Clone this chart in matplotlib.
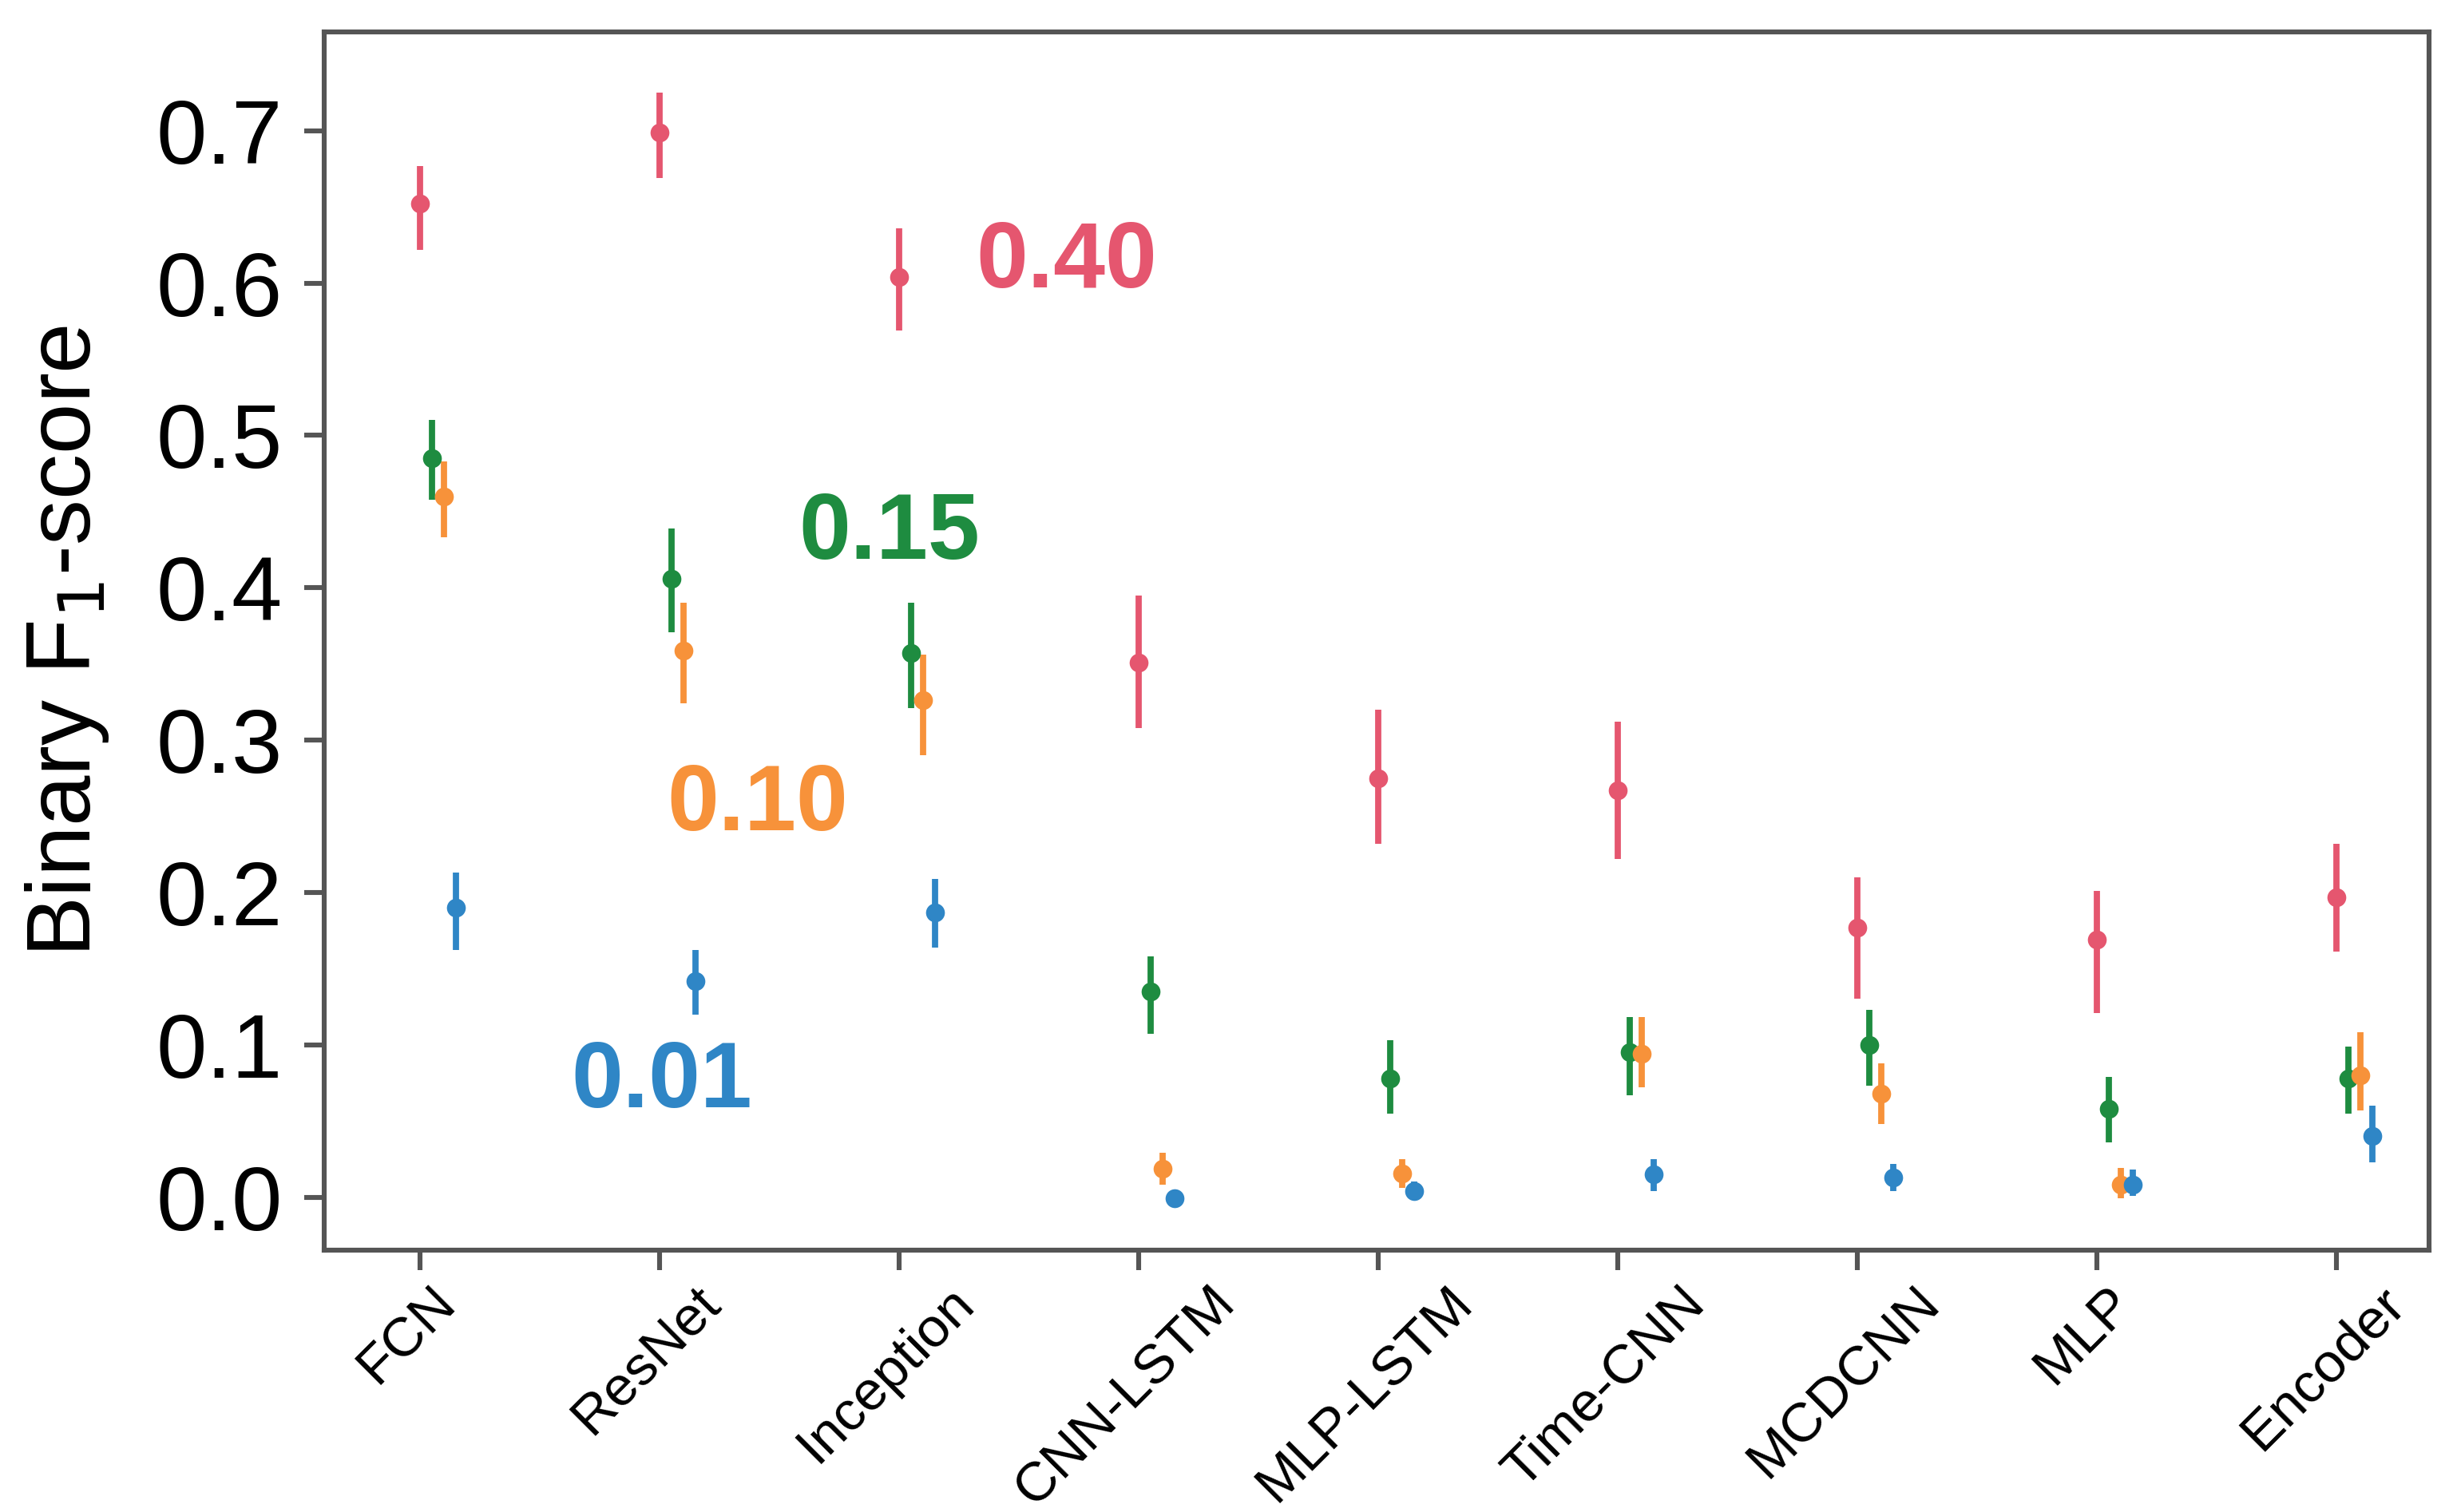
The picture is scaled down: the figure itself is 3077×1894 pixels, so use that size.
import matplotlib
matplotlib.use('Agg')
import matplotlib.pyplot as plt
import matplotlib.transforms as mtransforms
import numpy as np

plt.rcParams['font.family'] = ['Liberation Sans', 'DejaVu Sans']

# Dados
models = ['FCN', 'ResNet', 'Inception', 'CNN-LSTM', 'MLP-LSTM',
          'Time-CNN', 'MCDCNN', 'MLP', 'Encoder']

# series: prevalence 0.40, 0.15, 0.10, 0.01
red_mean = [0.652, 0.699, 0.604, 0.351, 0.275, 0.267, 0.177, 0.169, 0.197]
red_lo = [0.622, 0.669, 0.569, 0.308, 0.232, 0.222, 0.130, 0.121, 0.161]
red_hi = [0.677, 0.725, 0.636, 0.395, 0.320, 0.312, 0.210, 0.201, 0.232]

green_mean = [0.485, 0.406, 0.357, 0.135, 0.078, 0.095, 0.100, 0.058, 0.078]
green_lo = [0.458, 0.371, 0.321, 0.107, 0.055, 0.067, 0.073, 0.036, 0.055]
green_hi = [0.510, 0.439, 0.390, 0.158, 0.103, 0.118, 0.123, 0.079, 0.099]

orange_mean = [0.460, 0.359, 0.326, 0.0185, 0.0155, 0.094, 0.068, 0.008, 0.080]
orange_lo = [0.433, 0.324, 0.290, 0.008, 0.006, 0.072, 0.048, -0.001, 0.057]
orange_hi = [0.483, 0.390, 0.356, 0.029, 0.025, 0.118, 0.088, 0.019, 0.108]

blue_mean = [0.190, 0.142, 0.187, -0.001, 0.004, 0.015, 0.013, 0.008, 0.040]
blue_lo = [0.162, 0.120, 0.164, -0.004, -0.002, 0.004, 0.004, 0.001, 0.023]
blue_hi = [0.213, 0.162, 0.209, 0.002, 0.010, 0.025, 0.022, 0.018, 0.060]

labels = ['0.40', '0.15', '0.10', '0.01']
colors = ['#E5566F', '#1E8C40', '#F7923A', '#2F86C6']
label_pos = [(2.7, 0.613), (1.96, 0.435), (1.41, 0.257), (1.01, 0.075)]

series = [
    (red_mean, red_lo, red_hi),
    (green_mean, green_lo, green_hi),
    (orange_mean, orange_lo, orange_hi),
    (blue_mean, blue_lo, blue_hi),
]

fig = plt.figure(figsize=(15.385, 9.47), dpi=200)
ax = fig.add_axes([0.132, 0.173, 0.8565, 0.806])

x = np.arange(len(models))
for k, (mean, lo, hi) in enumerate(series):
    mean = np.array(mean)
    yerr = np.vstack([mean - np.array(lo), np.array(hi) - mean])
    ax.errorbar(x + k * 0.05, mean, yerr=yerr, fmt='o', color=colors[k],
                ms=7.5, elinewidth=2.8, capsize=0, zorder=3)

for k, lab in enumerate(labels):
    ax.text(label_pos[k][0], label_pos[k][1], lab, color=colors[k],
            fontsize=42, fontweight='bold', ha='center', va='center')

ax.set_xlim(-0.4, 8.385)
ax.set_ylim(-0.035, 0.765)
ax.set_xticks(x)
ax.set_xticklabels(models, rotation=45, ha='center', fontsize=25)

yt = np.arange(0, 0.71, 0.1)
ax.set_yticks(yt)
ax.set_yticklabels([f'{v:.1f}' for v in yt], fontsize=41)
ax.set_ylabel('Binary F$_1$-score', fontsize=41, labelpad=20)

for s in ax.spines.values():
    s.set_color('#555555')
    s.set_linewidth(2.2)
ax.tick_params(axis='both', length=9, width=2.2, color='#555555')
ax.tick_params(axis='x', pad=3)
ax.tick_params(axis='y', pad=10)

# small shift of the tick labels to the left (after tick_params, which resets transforms)
shift = mtransforms.ScaledTranslation(-6 / 72, 0, fig.dpi_scale_trans)
for t in ax.get_xticklabels():
    t.set_transform(t.get_transform() + shift)

plt.savefig('out.png', dpi=200, facecolor='white')
